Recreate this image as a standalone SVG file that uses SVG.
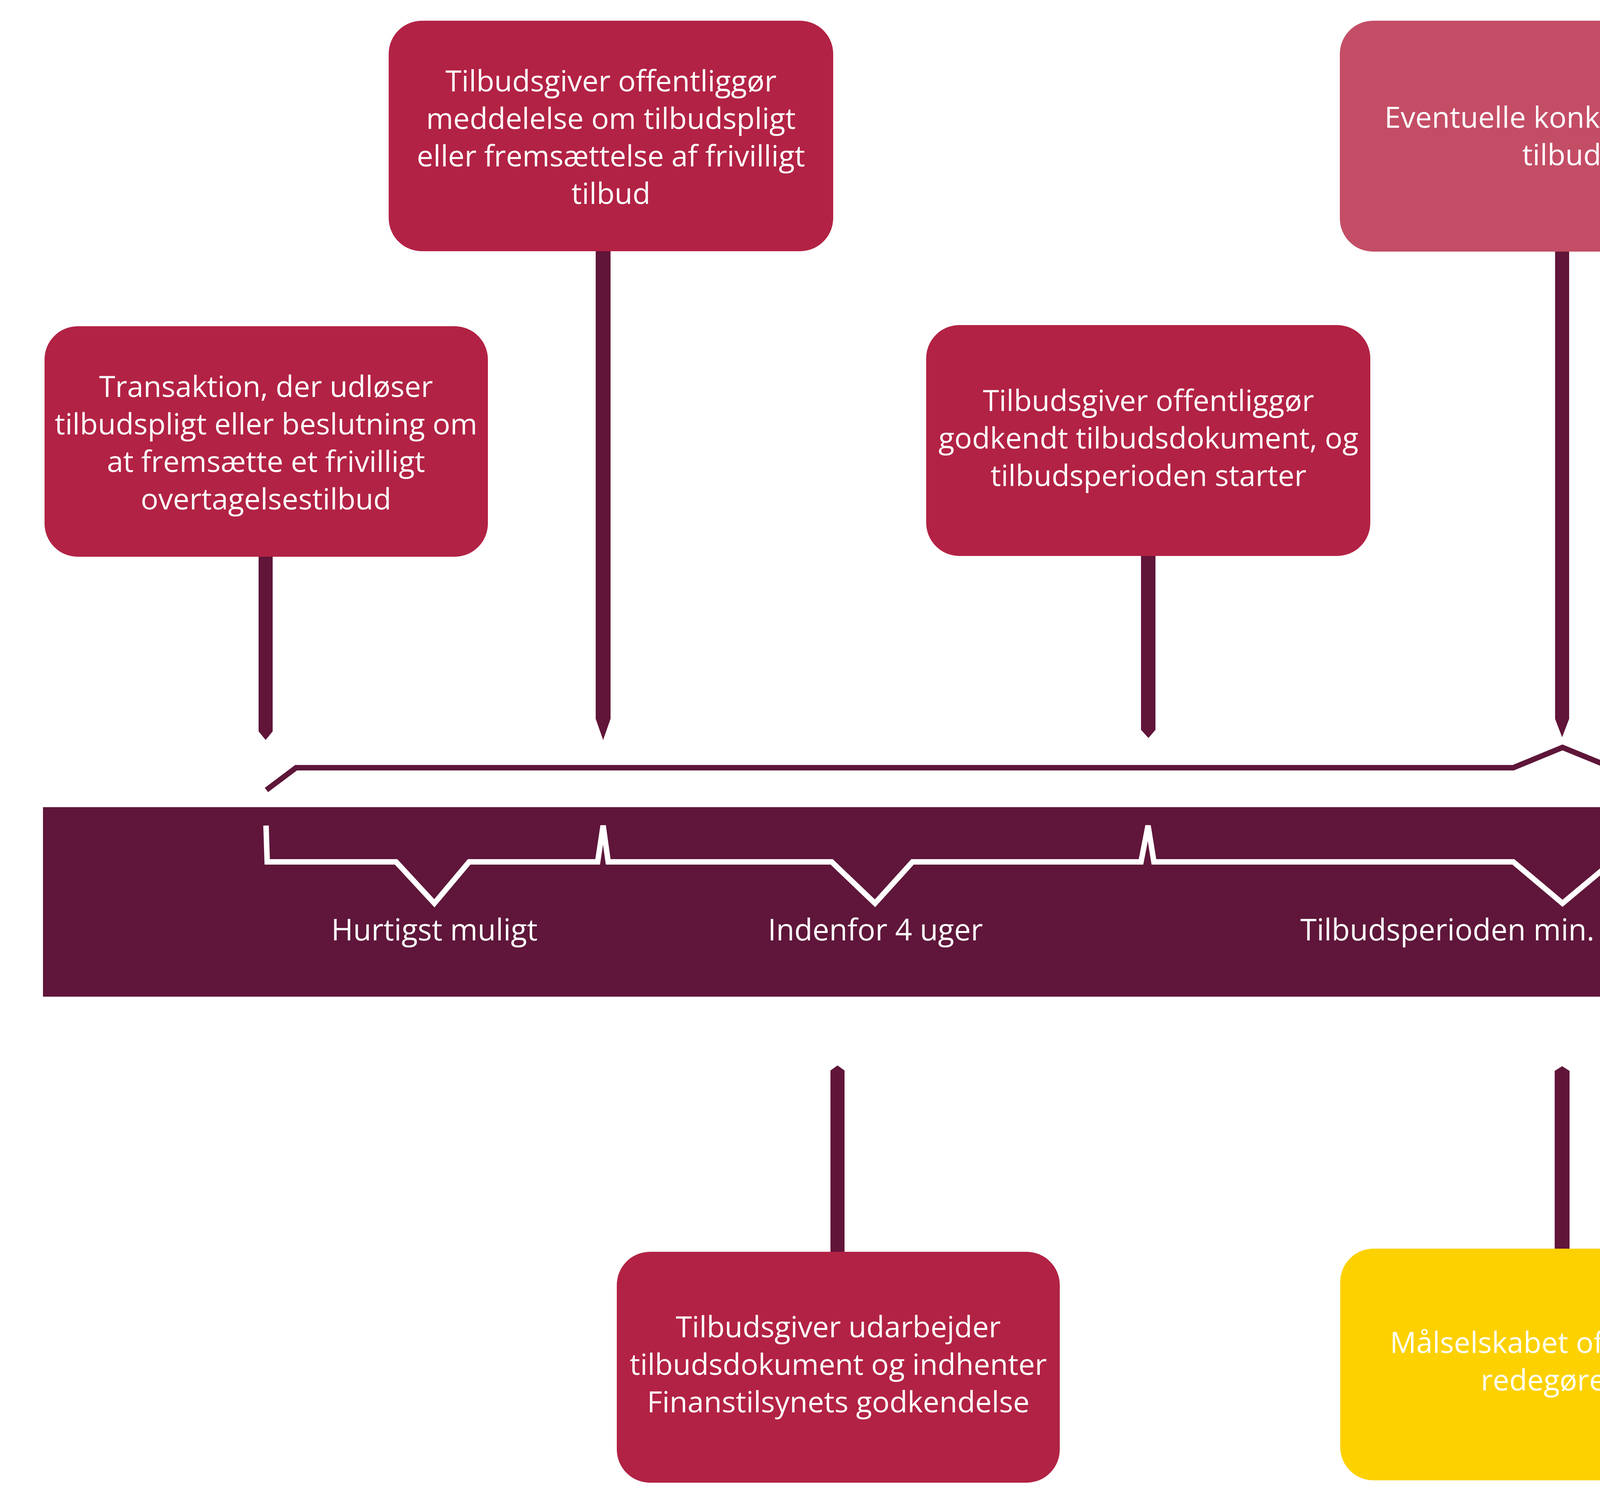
<svg xmlns="http://www.w3.org/2000/svg" width="7843" height="3847" viewBox="0 0 7843 3847">
<style>
.box{fill:#B22244}
.box2{fill:#C44D66}
.box3{fill:#FDD100}
.stem{fill:#611539}
.t{font-family:"Open Sans","Liberation Sans",sans-serif;font-size:75px;fill:#FFFFFF;text-anchor:middle}
.lbl{font-family:"Open Sans","Liberation Sans",sans-serif;font-size:76px;fill:#FFFFFF;text-anchor:middle}
.lbl2{font-family:"Open Sans","Liberation Sans",sans-serif;font-size:76px;fill:#5E1639;text-anchor:middle}
</style>
<rect width="7843" height="3847" fill="#FFFFFF"/>
<g id="timeline">
<polygon points="110,2066 7475,2066 7812,2309 7475,2551 110,2551" fill="#5F163A"/>
</g>
<g id="connectors">
<polygon class="stem" points="662,1425 698,1425 698,1872 680,1894 662,1872"/>
<polygon class="stem" points="1525,643 1563,643 1563,1840 1544,1894 1525,1840"/>
<polygon class="stem" points="2921,1423 2958,1423 2958,1868 2940,1889 2921,1868"/>
<polygon class="stem" points="3981,644 4017,644 4017,1840 3999,1887 3981,1840"/>
<polygon class="stem" points="5034,1421 5072,1421 5072,1866 5053,1887 5034,1866"/>
<polygon class="stem" points="5951,644 5985,644 5985,1840 5968,1893 5951,1840"/>
<polygon class="stem" points="6893,1425 6929,1425 6929,1866 6911,1887 6893,1866"/>
<polygon class="stem" points="2144,2727 2162,2740 2162,3204 2126,3204 2126,2740"/>
<polygon class="stem" points="3999,2729 4018,2741 4018,3196 3980,3196 3980,2741"/>
<polygon class="stem" points="4288,2728 4307,2739 4307,2780 4269,2780 4269,2739"/>
<path d="M4288 2770 V2985 H5343 V3202" fill="none" stroke="#611539" stroke-width="38" stroke-linejoin="miter"/>
<path d="M682 2022 L758 1965 H3874 L4000 1913 L4127 1965 H5012 L5053 2018 L5091 1965 H5424 L5508 1912 L5585 1965 H5952 L5968 2022" fill="none" stroke="#5E1639" stroke-width="14" stroke-linejoin="miter"/>
<path d="M681 2113 L684 2206 H1014 L1112 2312 L1201 2206 H1530 L1544 2113 L1557 2206 H2129 L2240 2312 L2336 2206 H2921 L2939 2113 L2954 2206 H3874 L4000 2312 L4127 2206 H5023 L5052 2113 L5078 2209 H5872 L5970 2312 L6067 2209 H6882 L6910 2112" fill="none" stroke="#FFFFFF" stroke-width="14" stroke-linejoin="miter"/>
</g>
<g id="labels">
<text class="lbl" x="1112" y="2407">Hurtigst muligt</text>
<text class="lbl" x="2241" y="2407">Indenfor 4 uger</text>
<text class="lbl" x="3999" y="2407">Tilbudsperioden min. 4 - max. 10 uger</text>
<text class="lbl" x="5972" y="2407">Indenfor 3 dage</text>
<text class="lbl2" x="5508" y="2042">Indenfor 18 timer</text>
</g>
<g id="n1">
<rect class="box" x="114" y="835" width="1135" height="590" rx="85" ry="85"/>
<text class="t" x="681"><tspan x="681" y="1016">Transaktion, der udløser</tspan><tspan x="681" y="1112">tilbudspligt eller beslutning om</tspan><tspan x="681" y="1208">at fremsætte et frivilligt</tspan><tspan x="681" y="1304">overtagelsestilbud</tspan></text>
</g>
<g id="n2">
<rect class="box" x="995" y="53" width="1138" height="590" rx="85" ry="85"/>
<text class="t" x="1564"><tspan x="1564" y="234">Tilbudsgiver offentliggør</tspan><tspan x="1564" y="330">meddelelse om tilbudspligt</tspan><tspan x="1564" y="426">eller fremsættelse af frivilligt</tspan><tspan x="1564" y="522">tilbud</tspan></text>
</g>
<g id="n3">
<rect class="box" x="2371" y="832" width="1137" height="591" rx="85" ry="85"/>
<text class="t" x="2940"><tspan x="2940" y="1052">Tilbudsgiver offentliggør</tspan><tspan x="2940" y="1148">godkendt tilbudsdokument, og</tspan><tspan x="2940" y="1244">tilbudsperioden starter</tspan></text>
</g>
<g id="n4">
<rect class="box2" x="3430" y="53" width="1136" height="591" rx="85" ry="85"/>
<text class="t" x="3998"><tspan x="3998" y="327">Eventuelle konkurrerende</tspan><tspan x="3998" y="423">tilbud</tspan></text>
</g>
<g id="n5">
<rect class="box" x="4486" y="830" width="1137" height="591" rx="85" ry="85"/>
<text class="t" x="5054" y="1145">Tilbudsperioden slutter</text>
</g>
<g id="n6">
<rect class="box" x="5399" y="53" width="1138" height="591" rx="85" ry="85"/>
<text class="t" x="5968"><tspan x="5968" y="234">Tilbudsgiver offentliggør</tspan><tspan x="5968" y="330">meddelelse om, hvorvidt</tspan><tspan x="5968" y="426">tilbuddet forlænges eller</tspan><tspan x="5968" y="522">afsluttes</tspan></text>
</g>
<g id="n7">
<rect class="box" x="6343" y="835" width="1138" height="590" rx="85" ry="85"/>
<text class="t" x="6912"><tspan x="6912" y="1052">Tilbudsgiver offentliggør</tspan><tspan x="6912" y="1148">meddelelse om det endelige</tspan><tspan x="6912" y="1244">resultat</tspan></text>
</g>
<g id="n8">
<rect class="box" x="1579" y="3204" width="1134" height="591" rx="85" ry="85"/>
<text class="t" x="2146"><tspan x="2146" y="3423">Tilbudsgiver udarbejder</tspan><tspan x="2146" y="3519">tilbudsdokument og indhenter</tspan><tspan x="2146" y="3615">Finanstilsynets godkendelse</tspan></text>
</g>
<g id="n9">
<rect class="box3" x="3431" y="3196" width="1136" height="593" rx="85" ry="85"/>
<text class="t" x="3999"><tspan x="3999" y="3463">Målselskabet offentliggør</tspan><tspan x="3999" y="3559">redegørelse</tspan></text>
</g>
<g id="n10">
<rect class="box" x="4774" y="3202" width="1137" height="589" rx="85" ry="85"/>
<text class="t" x="5343"><tspan x="5343" y="3461">Tilbudsgiver offentliggør et evt.</tspan><tspan x="5343" y="3555">tillæg til tilbudsdokumentet</tspan></text>
</g>
</svg>
